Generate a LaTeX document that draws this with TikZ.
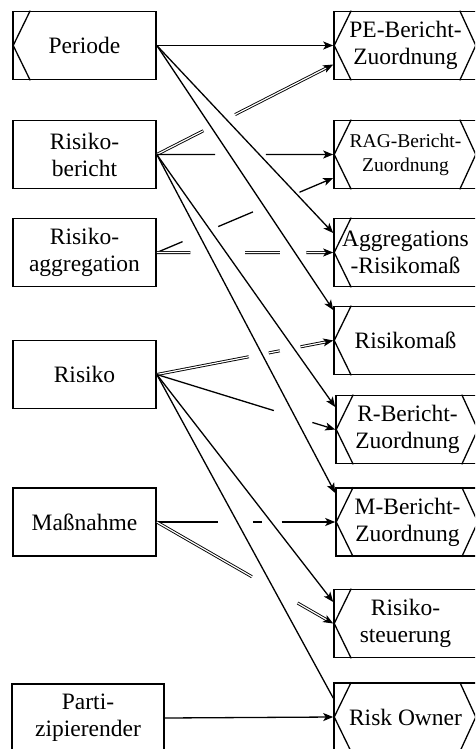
\documentclass[tikz,border=0pt]{standalone}
\usepackage{fontspec}
\setmainfont{Liberation Serif}
\usetikzlibrary{arrows.meta, calc}

% Spitzen an den Entitaetskaesten
\newcommand{\linksspitze}[1]{\draw[chev] ([xshift=18pt]#1.north west) -- ([xshift=1pt]#1.west) -- ([xshift=18pt]#1.south west);}
\newcommand{\rechtsspitze}[1]{\draw[chev] ([xshift=-18pt]#1.north east) -- ([xshift=-2pt]#1.east) -- ([xshift=-18pt]#1.south east);}

\begin{document}
\begin{tikzpicture}[x=1pt, y=-1pt,
    ent/.style={draw, line width=1.6pt, minimum width=143pt, minimum height=68pt,
        inner sep=0pt, align=center, font=\fontsize{23.5}{27}\selectfont},
    chev/.style={line width=1.3pt},
    conn/.style={line width=1.3pt, -{Stealth[length=10pt, width=8pt, inset=2.5pt]}},
    dconn/.style={conn, double, double distance=1.2pt, line width=0.9pt}]

    \useasboundingbox (0,0) rectangle (475,749);
    \clip (0,0) rectangle (475,749);

    % Entitaeten links
    \node[ent] (periode) at (84.5,45.5) {Periode};
    \node[ent] (rbericht) at (84.5,154.5) {Risiko-\\bericht};
    \node[ent] (ragg) at (84.5,252.5) {Risiko-\\aggregation};
    \node[ent] (risiko) at (84.5,374.5) {Risiko};
    \node[ent] (massn) at (84.5,522) {Maßnahme};
    \node[ent, minimum width=152pt] (partiz) at (88,718) {Parti-\\zipierender};
    \linksspitze{periode}

    % Beziehungen rechts
    \node[ent] (pe) at (405.5,45.5) {PE-Bericht-\\Zuordnung};
    \node[ent, font=\fontsize{19.5}{24}\selectfont] (ragb) at (405.5,154.5) {RAG-Bericht-\\Zuordnung};
    \node[ent] (agg) at (405.5,252.5) {Aggregations\\-Risikomaß};
    \node[ent] (rmass) at (405.5,340.5) {Risikomaß};
    \node[ent] (rber) at (407.5,429.5) {R-Bericht-\\Zuordnung};
    \node[ent] (mber) at (407.5,522) {M-Bericht-\\Zuordnung};
    \node[ent] (rsteu) at (405.5,623.5) {Risiko-\\steuerung};
    \node[ent] (rowner) at (405.5,717) {Risk Owner};
    \foreach \n in {pe, ragb, agg, rmass, rber, mber, rsteu, rowner}
        {\linksspitze{\n}}
    \foreach \n in {pe, ragb, rber, mber, rowner}
        {\rechtsspitze{\n}}

    % Andockpunkte neben der Mitte
    \coordinate (pe-in) at ([yshift=-19pt]pe.west);
    \coordinate (ragb-in) at ([yshift=-23.5pt]ragb.west);
    \coordinate (agg-in) at ([yshift=19.5pt]agg.west);
    \coordinate (rmass-in) at ([yshift=30.5pt]rmass.west);
    \coordinate (rber-in) at ([yshift=22.5pt]rber.west);
    \coordinate (mber-in) at ([yshift=29pt]mber.west);
    \coordinate (rsteu-in) at ([yshift=21.5pt]rsteu.west);
    \coordinate (rowner-in) at ([yshift=19pt]rowner.west);

    % Periode
    \draw[conn] (periode.east) -- (pe.west);
    \draw[conn] (periode.east) -- (agg-in);
    \draw[conn] (periode.east) -- (rmass-in);

    % Risikobericht (Luecken an den Kreuzungen)
    \draw[dconn] (rbericht.east) -- ($(rbericht.east)!0.264!(pe-in)$)
        ($(rbericht.east)!0.444!(pe-in)$) -- (pe-in);
    \draw[conn] (rbericht.east) -- ($(rbericht.east)!0.331!(ragb.west)$)
        ($(rbericht.east)!0.618!(ragb.west)$) -- (ragb.west);
    \draw[conn] (rbericht.east) -- (rber-in);
    \draw[conn] (rbericht.east) -- (mber-in);

    % Risikoaggregation
    \draw[conn] (ragg.east) -- ($(ragg.east)!0.146!(ragb-in)$)
        ($(ragg.east)!0.348!(ragb-in)$) -- ($(ragg.east)!0.545!(ragb-in)$)
        ($(ragg.east)!0.809!(ragb-in)$) -- (ragb-in);
    \draw[dconn] (ragg.east) -- ($(ragg.east)!0.191!(agg.west)$)
        ($(ragg.east)!0.5!(agg.west)$) -- ($(ragg.east)!0.697!(agg.west)$)
        ($(ragg.east)!0.848!(agg.west)$) -- (agg.west);

    % Risiko
    \draw[dconn] (risiko.east) -- ($(risiko.east)!0.522!(rmass.west)$)
        ($(risiko.east)!0.635!(rmass.west)$) -- ($(risiko.east)!0.697!(rmass.west)$)
        ($(risiko.east)!0.815!(rmass.west)$) -- (rmass.west);
    \draw[conn] (risiko.east) -- ($(risiko.east)!0.656!(rber.west)$)
        ($(risiko.east)!0.872!(rber.west)$) -- (rber.west);
    \draw[conn] (risiko.east) -- (rsteu-in);
    \draw[line width=1.3pt] (risiko.east) -- (rowner-in);

    % Massnahme
    \draw[conn] (massn.east) -- ($(massn.east)!0.344!(mber.west)$)
        ($(massn.east)!0.539!(mber.west)$) -- ($(massn.east)!0.589!(mber.west)$)
        ($(massn.east)!0.7!(mber.west)$) -- (mber.west);
    \draw[dconn] (massn.east) -- ($(massn.east)!0.539!(rsteu.west)$)
        ($(massn.east)!0.798!(rsteu.west)$) -- (rsteu.west);

    % Partizipierender
    \draw[conn] (partiz.east) -- (rowner.west);

\end{tikzpicture}
\end{document}
